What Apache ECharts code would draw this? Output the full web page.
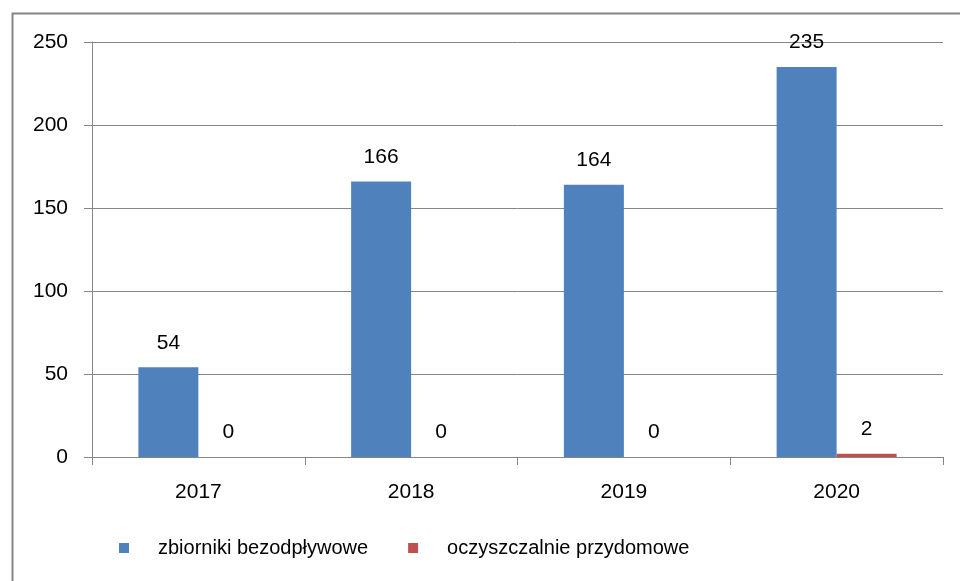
<!DOCTYPE html>
<html>
<head>
<meta charset="utf-8">
<script src="https://cdn.jsdelivr.net/npm/echarts@6/dist/echarts.min.js"></script>
<style>
  html, body { margin: 0; padding: 0; background: #fff; }
  #chart { width: 960px; height: 581px; }
</style>
</head>
<body>
<div id="chart"></div>
<script>
// dane z wykresu
const years = ['2017', '2018', '2019', '2020']
const zbiorniki = [54, 166, 164, 235]
const oczyszczalnie = [0, 0, 0, 2]
const seriesNames = ['zbiorniki bezodpływowe', 'oczyszczalnie przydomowe']

const font = 'Liberation Sans'
const chart = echarts.init(document.getElementById('chart'))

const labelStyle = {
  show: true,
  position: 'top',
  distance: 14,
  color: '#000',
  fontFamily: font,
  fontSize: 21
}

chart.setOption({
  animation: false,
  graphic: [{
    type: 'rect',
    left: 10,
    top: 11,
    shape: { width: 960, height: 600 },
    style: { fill: 'none', stroke: '#858585', lineWidth: 2 },
    silent: true
  }],
  legend: {
    data: seriesNames,
    bottom: 23,
    left: 119,
    padding: 0,
    icon: 'rect',
    itemWidth: 10,
    itemHeight: 10,
    itemGap: 40,
    textStyle: {
      color: '#000',
      fontFamily: font,
      fontSize: 20,
      padding: [0, 0, 0, 24]
    }
  },
  grid: {
    left: 92,
    right: 17,
    top: 42,
    bottom: 124
  },
  xAxis: {
    type: 'category',
    data: years,
    axisLine: { lineStyle: { color: '#868686' } },
    axisTick: { show: true, length: 8, lineStyle: { color: '#868686' } },
    axisLabel: { color: '#000', fontFamily: font, fontSize: 21, margin: 25 }
  },
  yAxis: {
    type: 'value',
    min: 0,
    max: 250,
    interval: 50,
    axisLine: { show: true, lineStyle: { color: '#868686' } },
    axisTick: { show: true, length: 8, lineStyle: { color: '#868686' } },
    axisLabel: { color: '#000', fontFamily: font, fontSize: 21, margin: 24 },
    splitLine: { lineStyle: { color: '#868686' } }
  },
  series: [
    {
      name: seriesNames[0],
      type: 'bar',
      data: zbiorniki,
      barWidth: 60,
      barGap: '0%',
      itemStyle: { color: '#4F81BD' },
      label: labelStyle
    },
    {
      name: seriesNames[1],
      type: 'bar',
      data: oczyszczalnie,
      barWidth: 60,
      barGap: '0%',
      itemStyle: { color: '#C0504D' },
      label: labelStyle
    }
  ]
})
</script>
</body>
</html>
